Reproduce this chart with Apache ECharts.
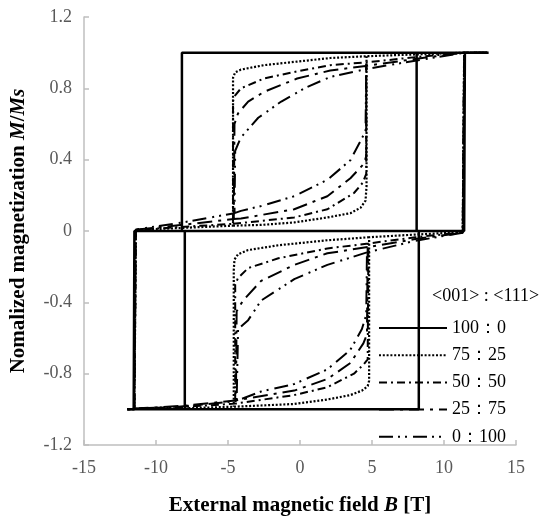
<!DOCTYPE html>
<html>
<head>
<meta charset="utf-8">
<script src="https://cdn.jsdelivr.net/npm/echarts@6/dist/echarts.min.js"></script>
<style>
  html, body { margin: 0; padding: 0; background: #fff; }
  #main { width: 560px; height: 521px; }
</style>
</head>
<body>
<div id="main"></div>
<script>
// break marker between separate pieces of one loop
var BR = ['-', '-'];

var names = ['100：0', '75：25', '50：50', '25：75', '0：100'];
var xTicks = [-15, -10, -5, 0, 5, 10, 15];
var yTicks = [-1.2, -0.8, -0.4, 0, 0.4, 0.8, 1.2];

// 100:0  major loop, then top minor loop, bottom minor loop
var loop100 = [
  [13.1, 1.0], [-8.2, 1.0], [-8.2, 0], [-11.5, 0], [-11.55, -1.0], [-12.0, -1.0],
  [8.25, -1.0], [8.25, 0], [11.4, 0], [11.45, 1.0], [13.1, 1.0], BR,
  [-8.2, 0], [8.1, 0], [8.1, 1.0], BR,
  [8.25, 0], [-8.0, 0], [-8.0, -1.0]
];

// 75:25
var loop75 = [
  [13.0, 1.0], [11.4, 1.0], [8.0, 0.99], [4.6, 0.98], [2.1, 0.97], [-0.2, 0.95], [-2.5, 0.93],
  [-4.1, 0.905], [-4.5, 0.89], [-4.65, 0.86], [-4.65, 0.03], [-8.0, 0.018], [-11.4, 0.006],
  [-11.5, -1.0], [-12.0, -1.0], [-11.5, -0.998], [-8.0, -0.994], [-4.5, -0.985], [-0.4, -0.97],
  [1.9, -0.945], [3.5, -0.92], [4.3, -0.895], [4.7, -0.87], [4.8, -0.84], [4.8, -0.035],
  [8.0, -0.02], [11.3, -0.006], [11.4, 1.0], [13.0, 1.0], BR,
  [-4.65, 0.03], [-2.7, 0.034], [-0.4, 0.048], [1.9, 0.076], [3.5, 0.10], [4.2, 0.13],
  [4.55, 0.17], [4.62, 0.25], [4.62, 0.98], BR,
  [4.8, -0.035], [1.9, -0.052], [-1.5, -0.08], [-3.6, -0.107], [-4.3, -0.13], [-4.55, -0.16],
  [-4.6, -0.22], [-4.6, -0.985]
];

// 50:50
var loop50 = [
  [13.0, 1.0], [11.4, 1.0], [8.0, 0.975], [4.7, 0.946], [2.1, 0.93], [-0.2, 0.895], [-2.5, 0.855],
  [-4.1, 0.80], [-4.5, 0.76], [-4.65, 0.73], [-4.65, 0.04], [-8.0, 0.024], [-11.4, 0.006],
  [-11.5, -1.0], [-12.0, -1.0], [-11.5, -0.996], [-8.0, -0.986], [-4.5, -0.968], [-0.4, -0.92],
  [1.9, -0.876], [3.75, -0.80], [4.4, -0.75], [4.7, -0.72], [4.75, -0.07],
  [8.0, -0.035], [11.3, -0.008], [11.4, 1.0], [13.0, 1.0], BR,
  [-4.65, 0.04], [-0.4, 0.076], [1.9, 0.122], [3.75, 0.213], [4.35, 0.27], [4.6, 0.32], [4.6, 0.946], BR,
  [4.75, -0.07], [1.9, -0.098], [-1.5, -0.153], [-3.6, -0.208], [-4.3, -0.263], [-4.5, -0.30],
  [-4.5, -0.968]
];

// 25:75
var loop25 = [
  [13.0, 1.0], [11.4, 1.0], [8.0, 0.965], [4.7, 0.927], [2.1, 0.90], [-0.2, 0.855], [-2.5, 0.78],
  [-3.6, 0.726], [-4.3, 0.66], [-4.55, 0.60], [-4.6, 0.067], [-8.0, 0.036], [-11.4, 0.007],
  [-11.5, -1.0], [-12.0, -1.0], [-11.5, -0.995], [-8.0, -0.98], [-4.5, -0.95], [-0.4, -0.895],
  [1.9, -0.83], [3.5, -0.74], [4.4, -0.63], [4.65, -0.58], [4.7, -0.09],
  [8.0, -0.045], [11.3, -0.01], [11.4, 1.0], [13.0, 1.0], BR,
  [-4.6, 0.067], [-4.1, 0.07], [-0.4, 0.122], [1.9, 0.195], [3.5, 0.296], [4.45, 0.378],
  [4.6, 0.42], [4.6, 0.927], BR,
  [4.7, -0.09], [1.9, -0.125], [-0.4, -0.19], [-2.7, -0.28], [-3.96, -0.39], [-4.4, -0.45],
  [-4.45, -0.95]
];

// 0:100
var loop0 = [
  [13.0, 1.0], [11.4, 1.0], [8.0, 0.955], [4.7, 0.91], [2.1, 0.864], [0.3, 0.80], [-1.3, 0.726],
  [-2.9, 0.635], [-4.1, 0.525], [-4.5, 0.45], [-4.55, 0.10], [-8.0, 0.05], [-11.4, 0.008],
  [-11.5, -1.0], [-12.0, -1.0], [-11.5, -0.995], [-8.45, -0.986], [-4.5, -0.955], [-2.7, -0.90],
  [-0.4, -0.858], [1.9, -0.776], [3.5, -0.666], [4.3, -0.55], [4.6, -0.47], [4.65, -0.12],
  [8.0, -0.055], [11.3, -0.01], [11.4, 1.0], [13.0, 1.0], BR,
  [-4.55, 0.10], [-4.1, 0.113], [-2.7, 0.14], [-0.4, 0.195], [1.9, 0.287], [3.5, 0.397],
  [4.33, 0.525], [4.55, 0.56], [4.6, 0.91], BR,
  [4.65, -0.12], [1.9, -0.19], [-0.4, -0.27], [-2.7, -0.39], [-3.6, -0.50], [-4.3, -0.55],
  [-4.4, -0.955]
];

var loops = [loop100, loop75, loop50, loop25, loop0];
var dashes = ['solid', [2, 1.8], [8, 4, 2, 4], [15, 6, 3, 6], [14, 5, 2, 5, 2, 6]];
var widths = [2.5, 2.2, 2, 2, 2];

var FONT = '"Liberation Serif", "Times New Roman", serif';

var chart = echarts.init(document.getElementById('main'), null, { renderer: 'canvas' });

var series = names.map(function (n, i) {
  return {
    name: n,
    type: 'line',
    data: loops[i],
    symbol: 'none',
    connectNulls: false,
    animation: false,
    lineStyle: { color: '#000', width: widths[i], type: dashes[i] },
    itemStyle: { color: '#000' }
  };
});

var nameRich = {
  b: { fontFamily: FONT, fontSize: 21, fontWeight: 'bold', color: '#000' },
  bi: { fontFamily: FONT, fontSize: 21, fontWeight: 'bold', fontStyle: 'italic', color: '#000' }
};

chart.setOption({
  backgroundColor: '#ffffff',
  animation: false,
  textStyle: { fontFamily: FONT },
  grid: { left: 82, right: 44, top: 17, bottom: 67, containLabel: false },
  legend: {
    data: names,
    orient: 'vertical',
    left: 373,
    top: 314,
    itemWidth: 68,
    itemHeight: 14,
    itemGap: 9.2,
    itemStyle: { color: 'rgba(0,0,0,0)', borderWidth: 0, opacity: 0 },
    textStyle: { fontFamily: FONT, fontSize: 18, color: '#000' }
  },
  graphic: [{
    type: 'text',
    left: 432,
    top: 287,
    style: { text: '<001> : <111>', font: '18px ' + FONT, fill: '#000' }
  }],
  xAxis: {
    type: 'value',
    min: -15, max: 15, interval: 5,
    name: '{b|External magnetic field }{bi|B}{b| [T]}',
    nameLocation: 'middle',
    nameGap: 50,
    nameTextStyle: { rich: nameRich },
    axisLine: { onZero: false, lineStyle: { color: '#bfbfbf', width: 1.5 } },
    axisTick: { inside: true, length: 5, lineStyle: { color: '#bfbfbf', width: 1.5 } },
    axisLabel: { fontFamily: FONT, fontSize: 18, color: '#595959', margin: 14 },
    splitLine: { show: false }
  },
  yAxis: {
    type: 'value',
    min: -1.2, max: 1.2, interval: 0.4,
    name: '{b|Nomalized magnetization }{bi|M}{b|/}{bi|Ms}',
    nameLocation: 'middle',
    nameGap: 55,
    nameRotate: 90,
    nameTextStyle: { rich: nameRich },
    axisLine: { show: true, onZero: false, lineStyle: { color: '#bfbfbf', width: 1.5 } },
    axisTick: { show: true, inside: true, length: 5, lineStyle: { color: '#bfbfbf', width: 1.5 } },
    axisLabel: {
      fontFamily: FONT, fontSize: 18, color: '#595959', margin: 12,
      formatter: function (v) { return yTicks.indexOf(Math.round(v * 10) / 10) >= 0 ? String(Math.round(v * 10) / 10) : ''; }
    },
    splitLine: { show: false }
  },
  series: series
});
</script>
</body>
</html>
